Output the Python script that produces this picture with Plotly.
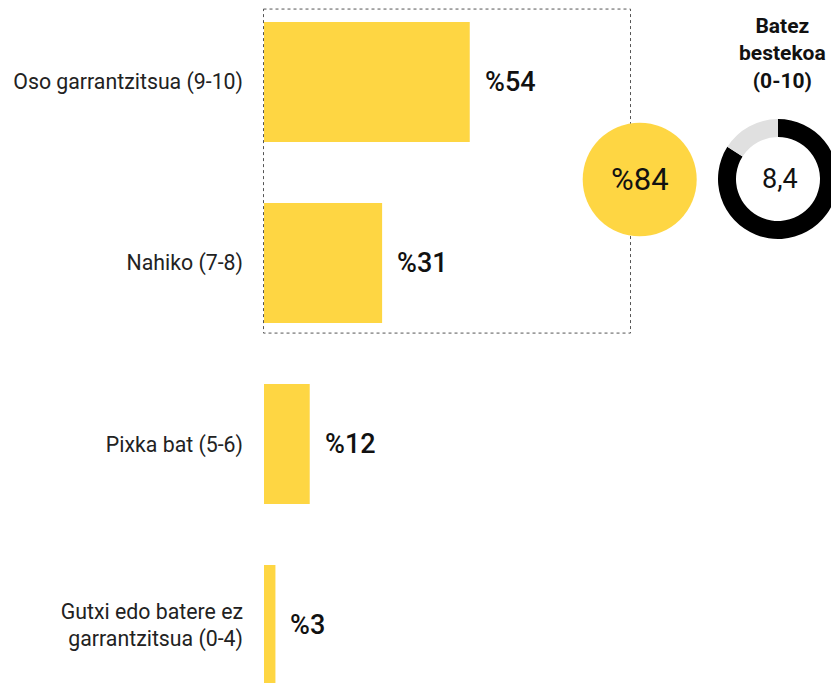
import plotly.graph_objects as go

categories = ["Oso garrantzitsua (9-10)", "Nahiko (7-8)", "Pixka bat (5-6)",
              "Gutxi edo batere ez<br>garrantzitsua (0-4)"]
values = [54, 31, 12, 3]
value_labels = ["%54", "%31", "%12", "%3"]
top_share_label = "%84"
mean_value = 8.4
mean_max = 10
mean_label = "8,4"
mean_title = "Batez<br>bestekoa<br>(0-10)"

W, H = 845, 683          # figure slightly wider than the window; the excess is cropped
YELLOW = "#FED643"
FONT = "Roboto"
PX_PER_UNIT = 3.81
AX_LEFT = 264  # px of the value axis origin

fig = go.Figure()
fig.add_trace(go.Bar(
    y=categories, x=values, orientation="h",
    marker=dict(color=YELLOW, line=dict(width=0)),
    width=0.663, hoverinfo="skip", showlegend=False,
))

# value labels
for c, v, t in zip(categories, values, value_labels):
    fig.add_annotation(x=v, y=c, xref="x", yref="y", text=t, showarrow=False,
                       xanchor="left", yanchor="middle", xshift=13,
                       font=dict(family=FONT, size=27, color="#111", weight=500))

# donut for the mean
fig.add_trace(go.Pie(
    values=[mean_value, mean_max - mean_value],
    marker=dict(colors=["#000000", "#E0E0E0"], line=dict(width=0)),
    hole=0.7, sort=False, direction="clockwise", rotation=0,
    textinfo="none", hoverinfo="skip", showlegend=False,
    domain=dict(x=[718 / W, 838 / W], y=[1 - 239 / H, 1 - 119 / H]),
))
fig.add_annotation(x=780 / W, y=1 - 179 / H, xref="paper", yref="paper",
                   text=mean_label, showarrow=False, xanchor="center", yanchor="middle",
                   font=dict(family=FONT, size=27, color="#111"))
fig.add_annotation(x=782 / W, y=1 - 54 / H, xref="paper", yref="paper",
                   text=mean_title, showarrow=False, xanchor="center", yanchor="middle",
                   align="center",
                   font=dict(family=FONT, size=21, color="#111", weight="bold"))

# yellow circle with the top-2 share
fig.add_shape(type="circle", xref="paper", yref="paper",
              x0=582.7 / W, x1=696.7 / W, y0=1 - 236.3 / H, y1=1 - 122.7 / H,
              fillcolor=YELLOW, line=dict(width=0), layer="above")
fig.add_annotation(x=639.7 / W, y=1 - 179.5 / H, xref="paper", yref="paper",
                   text=top_share_label, showarrow=False, xanchor="center", yanchor="middle",
                   font=dict(family=FONT, size=31, color="#111"))

# dotted box around the first two categories
fig.add_shape(type="rect", xref="paper", yref="y",
              x0=263.5 / W, x1=630.5 / W, y0=-0.403, y1=1.387,
              line=dict(color="#555", width=1, dash="dot"), fillcolor="rgba(0,0,0,0)",
              layer="below")

fig.update_layout(
    width=W, height=H,
    margin=dict(l=0, r=0, t=0, b=0),
    paper_bgcolor="white", plot_bgcolor="white",
    font=dict(family=FONT),
    hovermode=False,
    xaxis=dict(domain=[AX_LEFT / W, 1.0], range=[0, (W - AX_LEFT) / PX_PER_UNIT],
               visible=False, fixedrange=True),
    yaxis=dict(range=[3.320, -0.453], showgrid=False, zeroline=False, showline=False,
               ticks="", ticklabelstandoff=20,
               tickfont=dict(family=FONT, size=21.3, color="#222"), fixedrange=True,
               automargin=False),
)

fig.write_html(
    "out.html",
    config={"displayModeBar": False, "staticPlot": True},
    post_script="document.body.style.margin='0';document.body.style.overflow='hidden';"
                "document.documentElement.style.overflow='hidden';",
)
